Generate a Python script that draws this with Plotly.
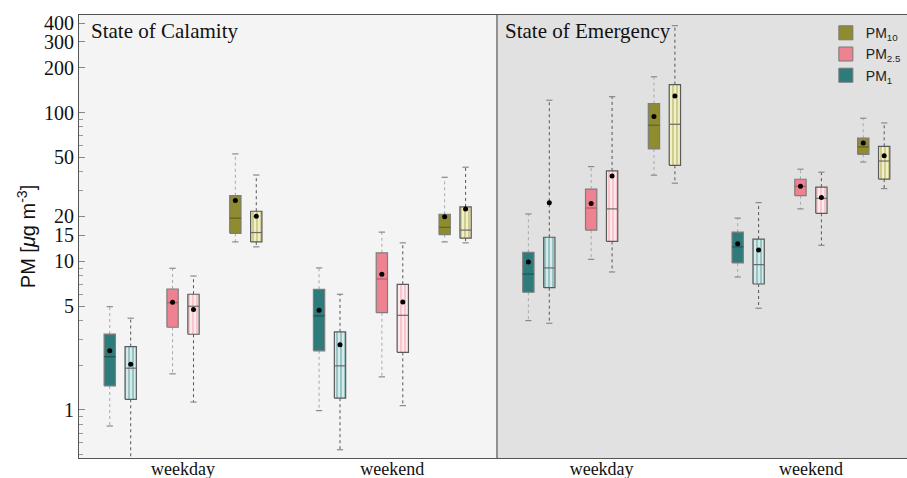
import plotly.graph_objects as go

# ---------------- data ----------------
periods = ["State of Calamity", "State of Emergency"]
group_labels = ["weekday", "weekend", "weekday", "weekend"]
group_pos = [0, 1, 2, 3]

# order of groups: Calamity-weekday, Calamity-weekend, Emergency-weekday, Emergency-weekend
pm1_a_low = [0.78, 0.99, 3.99, 7.84]
pm1_a_q1 = [1.45, 2.50, 6.19, 9.74]
pm1_a_med = [2.28, 4.29, 8.2, 12.5]
pm1_a_q3 = [3.24, 6.48, 11.5, 15.7]
pm1_a_up = [4.95, 9.02, 20.8, 19.5]
pm1_a_mean = [2.50, 4.68, 9.9, 13.1]

pm1_b_low = [0.40, 0.54, 3.83, 4.83]
pm1_b_q1 = [1.18, 1.20, 6.64, 7.03]
pm1_b_med = [1.91, 1.98, 9.02, 9.49]
pm1_b_q3 = [2.67, 3.35, 14.5, 14.1]
pm1_b_up = [4.14, 6.0, 121, 24.8]
pm1_b_mean = [2.03, 2.75, 24.7, 11.9]

pm25_a_low = [1.75, 1.67, 10.3, 22.5]
pm25_a_q1 = [3.60, 4.51, 16.2, 27.6]
pm25_a_med = [5.27, 7.6, 22.8, 31.9]
pm25_a_q3 = [6.51, 11.4, 30.6, 35.6]
pm25_a_up = [8.97, 15.7, 43.3, 41.6]
pm25_a_mean = [5.3, 8.18, 24.5, 31.9]

pm25_b_low = [1.13, 1.07, 8.47, 12.8]
pm25_b_q1 = [3.23, 2.44, 13.6, 21.0]
pm25_b_med = [4.98, 4.33, 22.5, 26.5]
pm25_b_q3 = [6.0, 7.0, 40.5, 31.5]
pm25_b_up = [7.96, 13.3, 128, 39.7]
pm25_b_mean = [4.73, 5.32, 37.5, 26.8]

pm10_a_low = [13.5, 13.5, 37.9, 46.5]
pm10_a_q1 = [15.4, 15.1, 56.9, 52.4]
pm10_a_med = [19.5, 16.9, 82.2, 58.7]
pm10_a_q3 = [27.6, 20.7, 115, 67.2]
pm10_a_up = [52.7, 36.7, 174, 91.6]
pm10_a_mean = [25.6, 19.9, 94, 62.5]

pm10_b_low = [12.5, 13.3, 33.5, 30.8]
pm10_b_q1 = [13.5, 14.3, 44.2, 35.7]
pm10_b_med = [15.6, 16.2, 83.4, 47.2]
pm10_b_q3 = [21.7, 23.2, 154, 59.3]
pm10_b_up = [38.0, 42.9, 384, 85.1]
pm10_b_mean = [20.1, 22.5, 129, 51.3]

y_tick_vals = [1, 5, 10, 15, 20, 50, 100, 200, 300, 400]
y_minor_vals = [0.5, 0.6, 0.7, 0.8, 0.9, 2, 3, 4, 6, 7, 8, 9, 30, 40, 60, 70, 80, 90]

# ---------------- styling ----------------
COL = {"PM1": "#2e7b7c", "PM2.5": "#ef8290", "PM10": "#8f8b2f"}
PALE = {"PM1": "#d3ebeb", "PM2.5": "#fde9ec", "PM10": "#f1f0c4"}
MED = {"PM1": "#1d5354", "PM2.5": "#b85a66", "PM10": "#62611f"}
SERIF = "Liberation Serif"
SANS = "Liberation Sans"

series = [
    ("PM1", False, -0.35, pm1_a_low, pm1_a_q1, pm1_a_med, pm1_a_q3, pm1_a_up, pm1_a_mean),
    ("PM1", True, -0.25, pm1_b_low, pm1_b_q1, pm1_b_med, pm1_b_q3, pm1_b_up, pm1_b_mean),
    ("PM2.5", False, -0.05, pm25_a_low, pm25_a_q1, pm25_a_med, pm25_a_q3, pm25_a_up, pm25_a_mean),
    ("PM2.5", True, 0.05, pm25_b_low, pm25_b_q1, pm25_b_med, pm25_b_q3, pm25_b_up, pm25_b_mean),
    ("PM10", False, 0.25, pm10_a_low, pm10_a_q1, pm10_a_med, pm10_a_q3, pm10_a_up, pm10_a_mean),
    ("PM10", True, 0.35, pm10_b_low, pm10_b_q1, pm10_b_med, pm10_b_q3, pm10_b_up, pm10_b_mean),
]

HW = 0.027   # half box width (x units)
CW = 0.015   # half cap width

fig = go.Figure()

for name, hatched, off, low, q1, med, q3, up, mean in series:
    wcol = "#555555" if hatched else "#a8a8a8"
    # whiskers
    wx, wy, cx, cy = [], [], [], []
    for g, gp in enumerate(group_pos):
        x = gp + off
        wx += [x, x, None, x, x, None]
        wy += [q3[g], up[g], None, q1[g], low[g], None]
        cx += [x - CW, x + CW, None, x - CW, x + CW, None]
        cy += [up[g], up[g], None, low[g], low[g], None]
    fig.add_trace(go.Scatter(x=wx, y=wy, mode="lines", showlegend=False, hoverinfo="skip",
                             line=dict(color=wcol, width=1, dash="dot")))
    fig.add_trace(go.Scatter(x=cx, y=cy, mode="lines", showlegend=False, hoverinfo="skip",
                             line=dict(color="#8a8a8a", width=1.2)))
    # boxes
    for g, gp in enumerate(group_pos):
        x = gp + off
        bx = [x - HW, x + HW, x + HW, x - HW, x - HW]
        by = [q1[g], q1[g], q3[g], q3[g], q1[g]]
        kw = dict(x=bx, y=by, mode="lines", fill="toself", showlegend=False, hoverinfo="skip")
        if hatched:
            fig.add_trace(go.Scatter(**kw, line=dict(color="#5a5a5a", width=1.2),
                                     fillcolor=PALE[name],
                                     fillpattern=dict(shape="|", fgcolor=COL[name], bgcolor=PALE[name],
                                                      size=4, solidity=0.35)))
        else:
            fig.add_trace(go.Scatter(**kw, line=dict(color="#7d7d7d", width=1.2),
                                     fillcolor=COL[name]))
    # medians
    mx, my = [], []
    for g, gp in enumerate(group_pos):
        x = gp + off
        mx += [x - HW, x + HW, None]
        my += [med[g], med[g], None]
    fig.add_trace(go.Scatter(x=mx, y=my, mode="lines", showlegend=False, hoverinfo="skip",
                             line=dict(color="#6a6a6a" if hatched else MED[name], width=1.2)))
    # means
    fig.add_trace(go.Scatter(x=[gp + off for gp in group_pos], y=mean, mode="markers",
                             showlegend=False, hoverinfo="skip",
                             marker=dict(color="black", size=5)))

# legend entries
for name, label in [("PM10", "PM<sub>10</sub>"), ("PM2.5", "PM<sub>2.5</sub>"), ("PM1", "PM<sub>1</sub>")]:
    fig.add_trace(go.Scatter(x=[None], y=[None], mode="markers", name=label,
                             marker=dict(symbol="square", size=14, color=COL[name],
                                         line=dict(color="#777777", width=1))))

fig.update_layout(
    width=907, height=478,
    margin=dict(l=79, r=0, t=15, b=20, autoexpand=False),
    paper_bgcolor="white",
    plot_bgcolor="#f4f4f4",
    showlegend=True,
    legend=dict(x=0.902, y=0.995, xanchor="left", yanchor="top", bgcolor="rgba(0,0,0,0)",
                font=dict(family=SANS, size=14, color="#222222"), tracegroupgap=0,
                itemwidth=30),
    shapes=[
        dict(type="rect", xref="x", yref="paper", x0=1.5, x1=3.6, y0=0, y1=1,
             fillcolor="#e1e1e1", line=dict(width=0), layer="below"),
        dict(type="line", xref="x", yref="paper", x0=1.5, x1=1.5, y0=0, y1=1,
             line=dict(color="#555555", width=1.2)),
    ],
    annotations=[
        dict(text=periods[0], xref="x", yref="paper", x=-0.45, y=0.995, xanchor="left", yanchor="top",
             showarrow=False, font=dict(family=SERIF, size=21, color="#111111")),
        dict(text=periods[1], xref="x", yref="paper", x=1.53, y=0.995, xanchor="left", yanchor="top",
             showarrow=False, font=dict(family=SERIF, size=21, color="#111111")),
    ],
)

fig.update_xaxes(range=[-0.497, 3.459], tickvals=group_pos, ticktext=group_labels,
                 showgrid=False, zeroline=False, ticks="", automargin=False,
                 ticklabelstandoff=-6,
                 showline=True, mirror=True, linecolor="#555555", linewidth=1.2,
                 tickfont=dict(family=SERIF, size=18, color="#111111"))
fig.update_yaxes(type="log", range=[-0.323, 2.656], tickvals=y_tick_vals,
                 ticktext=[str(v) for v in y_tick_vals], automargin=False,
                 ticks="inside", ticklen=6, tickcolor="#888888",
                 minor=dict(tickvals=y_minor_vals, ticks="inside", ticklen=4, tickcolor="#999999"),
                 showgrid=False, zeroline=False,
                 showline=True, mirror=True, linecolor="#555555", linewidth=1.2,
                 tickfont=dict(family=SERIF, size=20, color="#111111"),
                 title=dict(text="PM [<i>μ</i>g m<sup>-3</sup>]", standoff=2,
                            font=dict(family=SANS, size=20, color="#111111")))

fig.write_html("out.html", config={"displayModeBar": False},
               post_script="document.body.style.margin='0px';document.body.style.overflow='hidden';")
